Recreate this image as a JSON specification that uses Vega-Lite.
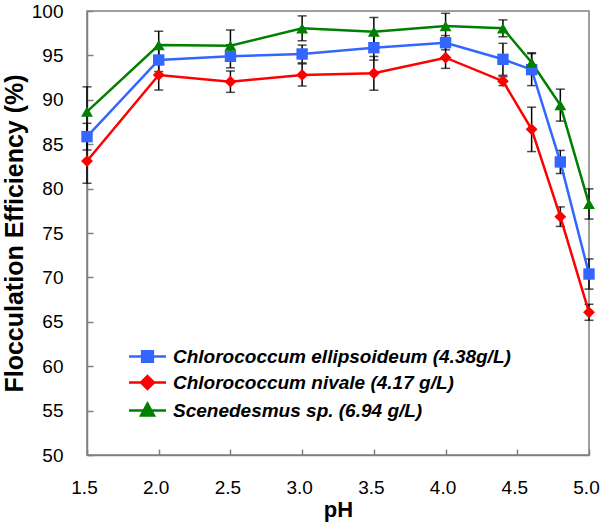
{
  "$schema": "https://vega.github.io/schema/vega-lite/v6.json",
  "width": 502,
  "height": 444,
  "autosize": {"type": "none"},
  "padding": {"left": 87, "top": 11, "right": 11, "bottom": 70},
  "background": "white",
  "config": {
    "view": {"stroke": "#808080", "strokeWidth": 1.5},
    "font": "Liberation Sans",
    "axis": {
      "domainColor": "#808080",
      "domainWidth": 1.5,
      "tickColor": "#808080",
      "tickWidth": 1.5,
      "tickSize": -6,
      "grid": false,
      "labelFont": "Liberation Sans",
      "labelFontSize": 19,
      "labelColor": "black",
      "titleFont": "Liberation Sans",
      "titleFontWeight": "bold",
      "titleColor": "black"
    }
  },
  "data": {
    "values": [
      {"pH": 1.5, "series": "Chlorococcum ellipsoideum (4.38g/L)", "value": 85.85, "lo": 84.35, "hi": 87.35},
      {"pH": 2.0, "series": "Chlorococcum ellipsoideum (4.38g/L)", "value": 94.48, "lo": 93.18, "hi": 95.78},
      {"pH": 2.5, "series": "Chlorococcum ellipsoideum (4.38g/L)", "value": 94.9, "lo": 93.6, "hi": 96.2},
      {"pH": 3.0, "series": "Chlorococcum ellipsoideum (4.38g/L)", "value": 95.16, "lo": 94.16, "hi": 96.16},
      {"pH": 3.5, "series": "Chlorococcum ellipsoideum (4.38g/L)", "value": 95.87, "lo": 94.47, "hi": 97.27},
      {"pH": 4.0, "series": "Chlorococcum ellipsoideum (4.38g/L)", "value": 96.43, "lo": 95.63, "hi": 97.23},
      {"pH": 4.4, "series": "Chlorococcum ellipsoideum (4.38g/L)", "value": 94.56, "lo": 92.76, "hi": 96.36},
      {"pH": 4.6, "series": "Chlorococcum ellipsoideum (4.38g/L)", "value": 93.4, "lo": 91.6, "hi": 95.2},
      {"pH": 4.8, "series": "Chlorococcum ellipsoideum (4.38g/L)", "value": 83.0, "lo": 81.7, "hi": 84.3},
      {"pH": 5.0, "series": "Chlorococcum ellipsoideum (4.38g/L)", "value": 70.38, "lo": 68.68, "hi": 72.08},
      {"pH": 1.5, "series": "Chlorococcum nivale (4.17 g/L)", "value": 83.1, "lo": 80.6, "hi": 85.6},
      {"pH": 2.0, "series": "Chlorococcum nivale (4.17 g/L)", "value": 92.8, "lo": 91.1, "hi": 94.5},
      {"pH": 2.5, "series": "Chlorococcum nivale (4.17 g/L)", "value": 92.04, "lo": 90.84, "hi": 93.24},
      {"pH": 3.0, "series": "Chlorococcum nivale (4.17 g/L)", "value": 92.8, "lo": 91.55, "hi": 94.05},
      {"pH": 3.5, "series": "Chlorococcum nivale (4.17 g/L)", "value": 92.98, "lo": 91.08, "hi": 94.88},
      {"pH": 4.0, "series": "Chlorococcum nivale (4.17 g/L)", "value": 94.74, "lo": 93.54, "hi": 95.94},
      {"pH": 4.4, "series": "Chlorococcum nivale (4.17 g/L)", "value": 92.1, "lo": 91.6, "hi": 92.6},
      {"pH": 4.6, "series": "Chlorococcum nivale (4.17 g/L)", "value": 86.67, "lo": 84.17, "hi": 89.17},
      {"pH": 4.8, "series": "Chlorococcum nivale (4.17 g/L)", "value": 76.84, "lo": 75.74, "hi": 77.94},
      {"pH": 5.0, "series": "Chlorococcum nivale (4.17 g/L)", "value": 66.07, "lo": 65.17, "hi": 66.97},
      {"pH": 1.5, "series": "Scenedesmus sp. (6.94 g/L)", "value": 88.66, "lo": 85.86, "hi": 91.46},
      {"pH": 2.0, "series": "Scenedesmus sp. (6.94 g/L)", "value": 96.17, "lo": 94.62, "hi": 97.72},
      {"pH": 2.5, "series": "Scenedesmus sp. (6.94 g/L)", "value": 96.1, "lo": 94.34, "hi": 97.86},
      {"pH": 3.0, "series": "Scenedesmus sp. (6.94 g/L)", "value": 98.05, "lo": 96.65, "hi": 99.45},
      {"pH": 3.5, "series": "Scenedesmus sp. (6.94 g/L)", "value": 97.67, "lo": 96.07, "hi": 99.27},
      {"pH": 4.0, "series": "Scenedesmus sp. (6.94 g/L)", "value": 98.3, "lo": 96.86, "hi": 99.74},
      {"pH": 4.4, "series": "Scenedesmus sp. (6.94 g/L)", "value": 98.05, "lo": 97.1, "hi": 99.0},
      {"pH": 4.6, "series": "Scenedesmus sp. (6.94 g/L)", "value": 94.2, "lo": 93.1, "hi": 95.3},
      {"pH": 4.8, "series": "Scenedesmus sp. (6.94 g/L)", "value": 89.4, "lo": 87.6, "hi": 91.2},
      {"pH": 5.0, "series": "Scenedesmus sp. (6.94 g/L)", "value": 78.27, "lo": 76.57, "hi": 79.97}
    ]
  },
  "encoding": {
    "x": {
      "field": "pH",
      "type": "quantitative",
      "scale": {"domain": [1.5, 5.0], "nice": false, "zero": false},
      "axis": {
        "title": "pH",
        "values": [1.5, 2.0, 2.5, 3.0, 3.5, 4.0, 4.5, 5.0],
        "format": ".1f",
        "labelPadding": 29,
        "labelOffset": -3,
        "titleFontSize": 22,
        "titlePadding": 2,
        "labelFlush": false
      }
    }
  },
  "layer": [
    {
      "mark": {"type": "rule", "color": "black", "strokeWidth": 1.5},
      "encoding": {
        "y": {
          "field": "lo",
          "type": "quantitative",
          "scale": {"domain": [50, 100], "nice": false, "zero": false},
          "axis": {
            "title": "Flocculation Efficiency (%)",
            "values": [50, 55, 60, 65, 70, 75, 80, 85, 90, 95, 100],
            "labelPadding": 30,
            "titleFontSize": 25,
            "titlePadding": 4,
            "labelFlush": false
          }
        },
        "y2": {"field": "hi"}
      }
    },
    {
      "mark": {"type": "tick", "orient": "horizontal", "color": "black", "thickness": 1.5, "size": 9},
      "encoding": {"y": {"field": "lo", "type": "quantitative"}}
    },
    {
      "mark": {"type": "tick", "orient": "horizontal", "color": "black", "thickness": 1.5, "size": 9},
      "encoding": {"y": {"field": "hi", "type": "quantitative"}}
    },
    {
      "mark": {"type": "line", "strokeWidth": 2.5},
      "encoding": {
        "y": {"field": "value", "type": "quantitative"},
        "color": {
          "field": "series",
          "type": "nominal",
          "scale": {
            "domain": ["Chlorococcum ellipsoideum (4.38g/L)", "Chlorococcum nivale (4.17 g/L)", "Scenedesmus sp. (6.94 g/L)"],
            "range": ["#3366ff", "#ff0000", "#008000"]
          },
          "legend": {
            "orient": "none",
            "legendX": 50,
            "legendY": 335,
            "title": null,
            "padding": 0,
            "symbolSize": 342,
            "symbolType": "square",
            "labelOffset": 15,
            "rowPadding": 4,
            "labelFont": "Liberation Sans",
            "labelFontSize": 19,
            "labelFontStyle": "italic",
            "labelFontWeight": "bold",
            "labelColor": "black",
            "labelLimit": 0,
            "encode": {
              "symbols": {
                "update": {
                  "shape": {"signal": "datum.value === 'Chlorococcum ellipsoideum (4.38g/L)' ? 'M-2,0H2M-0.58,-0.58H0.58V0.58H-0.58Z' : datum.value === 'Chlorococcum nivale (4.17 g/L)' ? 'M-2,0H2M0,-0.7L0.7,0L0,0.7L-0.7,0Z' : 'M-2,0H2M0,-0.75L0.7,0.55H-0.7Z'"},
                  "fill": {"signal": "scale('color', datum.value)"},
                  "stroke": {"signal": "scale('color', datum.value)"},
                  "strokeWidth": {"value": 2.5},
                  "size": {"value": 342},
                  "opacity": {"value": 1}
                }
              }
            }
          }
        }
      }
    },
    {
      "transform": [{"filter": "datum.series === 'Chlorococcum ellipsoideum (4.38g/L)'"}],
      "mark": {"type": "point", "shape": "square", "filled": true, "opacity": 1, "size": 130},
      "encoding": {
        "y": {"field": "value", "type": "quantitative"},
        "color": {"field": "series", "type": "nominal", "legend": null}
      }
    },
    {
      "transform": [{"filter": "datum.series === 'Chlorococcum nivale (4.17 g/L)'"}],
      "mark": {"type": "point", "shape": "diamond", "filled": true, "opacity": 1, "size": 140},
      "encoding": {
        "y": {"field": "value", "type": "quantitative"},
        "color": {"field": "series", "type": "nominal", "legend": null}
      }
    },
    {
      "transform": [{"filter": "datum.series === 'Scenedesmus sp. (6.94 g/L)'"}],
      "mark": {"type": "point", "shape": "triangle-up", "filled": true, "opacity": 1, "size": 140},
      "encoding": {
        "y": {"field": "value", "type": "quantitative"},
        "color": {"field": "series", "type": "nominal", "legend": null}
      }
    }
  ]
}
